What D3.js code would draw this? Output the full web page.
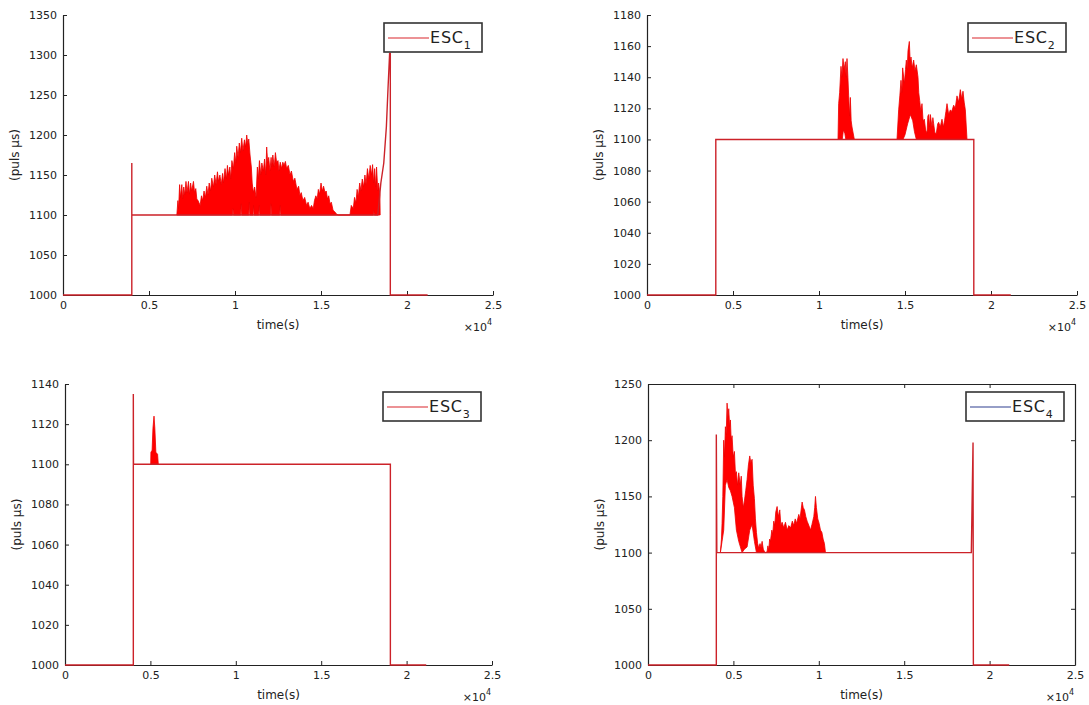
<!DOCTYPE html>
<html>
<head>
<meta charset="utf-8">
<script src="https://cdn.jsdelivr.net/npm/d3@7"></script>
<style>
  html, body { margin: 0; padding: 0; background: #fff; }
  text { font-family: "DejaVu Sans", sans-serif; fill: #222; }
</style>
</head>
<body>
<svg id="chart" width="1089" height="705"></svg>
<script>
// ---------- data ----------
const xTickValues = [0, 5000, 10000, 15000, 20000, 25000];
const xTickLabels = ["0", "0.5", "1", "1.5", "2", "2.5"];
const esc1YTicks = [1000, 1050, 1100, 1150, 1200, 1250, 1300, 1350];
const esc2YTicks = [1000, 1020, 1040, 1060, 1080, 1100, 1120, 1140, 1160, 1180];
const esc3YTicks = [1000, 1020, 1040, 1060, 1080, 1100, 1120, 1140];
const esc4YTicks = [1000, 1050, 1100, 1150, 1200, 1250];
const seriesNames = ["ESC", "ESC", "ESC", "ESC"];
const seriesSubs = ["1", "2", "3", "4"];

// base outline [time (s), pulse (µs)]
const esc1Base = [[0,1000],[4000,1000],[4000,1165],[4000,1100],[18300,1100],[18480,1140],[18650,1165],[18800,1210],[18900,1260],[18990,1302],[19030,1302],[19030,1000],[21200,1000]];
const esc2Base = [[0,1000],[4000,1000],[4000,1100],[19000,1100],[19000,1000],[21150,1000]];
const esc3Base = [[0,1000],[4000,1000],[4000,1135],[4010,1100],[19050,1100],[19050,1000],[21150,1000]];
const esc4Base = [[0,1000],[4000,1000],[4000,1205],[4030,1100],[18930,1100],[19030,1198],[19050,1000],[21150,1000]];

// oscillation envelopes (upper / lower)
const esc1Upper = [[6618,1100],[6680,1118],[6720,1108],[6780,1138],[6830,1122],[6908,1138],[6960,1120],[7020,1135],[7080,1125],[7150,1142],[7210,1128],[7295,1142],[7350,1126],[7420,1140],[7480,1130],[7585,1142],[7650,1128],[7720,1133],[7779,1120],[7850,1118],[7972,1112],[8050,1124],[8120,1118],[8200,1130],[8280,1122],[8359,1136],[8430,1125],[8500,1140],[8580,1130],[8650,1146],[8746,1135],[8820,1150],[8900,1138],[8980,1154],[9036,1142],[9120,1150],[9200,1138],[9280,1152],[9327,1140],[9420,1158],[9500,1145],[9560,1162],[9617,1150],[9700,1160],[9750,1145],[9820,1168],[9907,1158],[9980,1178],[10050,1165],[10101,1186],[10180,1172],[10250,1190],[10320,1178],[10391,1196],[10460,1180],[10550,1194],[10620,1185],[10681,1200],[10750,1188],[10800,1195],[10875,1175],[10950,1160],[11000,1140],[11068,1128],[11140,1135],[11223,1122],[11300,1160],[11358,1145],[11420,1168],[11500,1150],[11560,1165],[11648,1155],[11720,1170],[11790,1150],[11842,1185],[11900,1165],[11960,1172],[12030,1155],[12100,1172],[12132,1160],[12200,1175],[12280,1160],[12350,1178],[12423,1165],[12500,1168],[12550,1155],[12630,1166],[12713,1158],[12780,1166],[12850,1162],[12930,1167],[13003,1158],[13100,1162],[13200,1150],[13280,1155],[13390,1142],[13480,1146],[13600,1132],[13700,1136],[13777,1124],[13850,1128],[13950,1118],[14050,1122],[14164,1112],[14250,1116],[14350,1108],[14450,1112],[14551,1108],[14620,1118],[14700,1124],[14780,1120],[14845,1132],[14920,1126],[15000,1140],[15080,1130],[15150,1136],[15232,1128],[15300,1130],[15380,1120],[15450,1124],[15522,1114],[15600,1116],[15700,1106],[15800,1104],[15909,1101],[16006,1100],[16683,1100],[16760,1112],[16877,1108],[16950,1122],[17030,1115],[17100,1132],[17167,1122],[17250,1140],[17320,1130],[17400,1145],[17480,1135],[17554,1150],[17620,1138],[17700,1158],[17780,1145],[17860,1162],[17941,1150],[18000,1163],[18060,1140],[18120,1158],[18180,1135],[18231,1160],[18300,1130],[18350,1140],[18425,1125],[18440,1100]];
const esc1Lower = [[6618,1100],[9850,1100],[9880,1108],[9910,1100],[10330,1100],[10360,1114],[10390,1100],[10800,1100],[10830,1116],[10860,1100],[11050,1100],[11080,1112],[11110,1100],[11380,1100],[11410,1112],[11440,1100],[12060,1100],[12090,1114],[12120,1100],[12600,1100],[12630,1112],[12660,1100],[18040,1100],[18070,1106],[18100,1100],[18440,1100]];

const esc2Upper = [[11105,1100],[11143,1123],[11200,1130],[11279,1147],[11330,1140],[11395,1152],[11460,1145],[11531,1150],[11580,1140],[11628,1152],[11680,1140],[11725,1128],[11780,1115],[11822,1127],[11870,1112],[11919,1108],[12054,1100],[14535,1100],[14632,1119],[14700,1128],[14767,1138],[14820,1130],[14864,1146],[14961,1136],[15030,1145],[15078,1151],[15130,1145],[15174,1157],[15252,1163],[15300,1150],[15349,1153],[15420,1146],[15504,1151],[15580,1144],[15659,1148],[15756,1140],[15800,1130],[15853,1125],[15920,1118],[15988,1123],[16050,1112],[16124,1113],[16200,1106],[16279,1104],[16330,1115],[16376,1116],[16420,1108],[16473,1116],[16570,1108],[16620,1114],[16667,1110],[16740,1104],[16822,1104],[16900,1110],[16957,1111],[17050,1108],[17151,1113],[17230,1108],[17300,1112],[17380,1118],[17442,1123],[17540,1116],[17636,1119],[17720,1118],[17829,1122],[17920,1120],[18023,1128],[18120,1124],[18217,1132],[18300,1126],[18372,1131],[18440,1124],[18508,1119],[18605,1100]];
const esc2Lower = [[11105,1100],[11350,1100],[11420,1106],[11500,1104],[11560,1100],[12054,1100],[14535,1100],[14884,1100],[15000,1103],[15150,1110],[15310,1116],[15450,1112],[15550,1105],[15659,1100],[18605,1100]];

const esc3Upper = [[5018,1100],[5030,1106],[5100,1107],[5150,1118],[5211,1124],[5260,1118],[5320,1106],[5420,1105],[5462,1100]];
const esc3Lower = [[5018,1100],[5462,1100]];

const esc4Upper = [[4238,1100],[4300,1112],[4336,1126],[4380,1150],[4434,1200],[4480,1185],[4531,1212],[4580,1205],[4629,1233],[4680,1220],[4727,1228],[4780,1212],[4824,1218],[4870,1200],[4922,1204],[4990,1185],[5059,1190],[5120,1170],[5176,1172],[5240,1160],[5313,1171],[5400,1160],[5460,1168],[5508,1150],[5580,1140],[5645,1146],[5720,1155],[5801,1165],[5880,1178],[5957,1186],[6020,1180],[6094,1183],[6160,1160],[6230,1148],[6290,1130],[6348,1118],[6420,1108],[6484,1104],[6560,1108],[6620,1104],[6680,1110],[6750,1103],[6816,1101],[6900,1100],[6973,1101],[7020,1106],[7070,1102],[7120,1112],[7168,1110],[7250,1120],[7300,1116],[7363,1128],[7420,1124],[7480,1136],[7559,1141],[7630,1132],[7715,1138],[7780,1124],[7852,1127],[7950,1122],[8047,1127],[8150,1120],[8242,1124],[8350,1122],[8450,1128],[8535,1124],[8620,1130],[8700,1126],[8828,1134],[8900,1130],[9023,1145],[9090,1140],[9160,1138],[9240,1132],[9316,1128],[9420,1124],[9512,1120],[9600,1125],[9707,1132],[9760,1140],[9805,1150],[9860,1140],[9941,1130],[10020,1126],[10098,1120],[10180,1118],[10254,1112],[10330,1108],[10391,1100]];
const esc4Lower = [[4238,1100],[4434,1120],[4531,1160],[4629,1165],[4727,1158],[4824,1155],[4922,1150],[5059,1140],[5176,1120],[5313,1110],[5508,1100],[5645,1103],[5801,1105],[5957,1120],[6094,1125],[6230,1110],[6348,1100],[10391,1100]];

// ---------- layout ----------
const panels = [
  {rect:[63,493,15,295],  yDomain:[1000,1350], yTicks:esc1YTicks, base:esc1Base, up:esc1Upper, lo:esc1Lower, legendColor:"#d9262c", idx:0, box:false},
  {rect:[647,1077,15,295], yDomain:[1000,1180], yTicks:esc2YTicks, base:esc2Base, up:esc2Upper, lo:esc2Lower, legendColor:"#d9262c", idx:1, box:false},
  {rect:[65,492,384,665],  yDomain:[1000,1140], yTicks:esc3YTicks, base:esc3Base, up:esc3Upper, lo:esc3Lower, legendColor:"#d9262c", idx:2, box:false},
  {rect:[648,1075,384,665], yDomain:[1000,1250], yTicks:esc4YTicks, base:esc4Base, up:esc4Upper, lo:esc4Lower, legendColor:"#2e3f8f", idx:3, box:true}
];

const svg = d3.select("#chart");
const lineColor = "#cc2229";

panels.forEach(p => {
  const [x0, x1, y0, y1] = p.rect;
  const x = d3.scaleLinear().domain([0, 25000]).range([x0, x1]);
  const y = d3.scaleLinear().domain(p.yDomain).range([y1, y0]);
  const g = svg.append("g");

  const styleAxis = sel => {
    sel.selectAll("path.domain").attr("stroke", "#222").attr("stroke-width", 1.2);
    sel.selectAll(".tick line").attr("stroke", "#222").attr("stroke-width", 1);
    sel.selectAll(".tick text").style("font-family", "DejaVu Sans, sans-serif").style("font-size", "11px").attr("fill", "#222");
  };

  // axes
  const xAxis = d3.axisBottom(x).tickValues(xTickValues)
    .tickFormat((d, i) => xTickLabels[i]).tickSizeInner(-4).tickSizeOuter(0).tickPadding(6.5);
  g.append("g").attr("transform", `translate(0,${y1})`).call(xAxis).call(styleAxis);

  const yAxis = d3.axisLeft(y).tickValues(p.yTicks).tickFormat(d3.format("d"))
    .tickSizeInner(-4).tickSizeOuter(0).tickPadding(6);
  g.append("g").attr("transform", `translate(${x0},0)`).call(yAxis).call(styleAxis);

  if (p.box) {
    g.append("g").attr("transform", `translate(0,${y0})`)
      .call(d3.axisTop(x).tickValues(xTickValues).tickFormat("").tickSizeInner(-4).tickSizeOuter(0)).call(styleAxis);
    g.append("g").attr("transform", `translate(${x1},0)`)
      .call(d3.axisRight(y).tickValues(p.yTicks).tickFormat("").tickSizeInner(-4).tickSizeOuter(0)).call(styleAxis);
  }

  // labels
  g.append("text").attr("x", (x0 + x1) / 2).attr("y", y1 + 34)
    .attr("text-anchor", "middle").style("font-size", "12px").text("time(s)");
  const mult = g.append("text").attr("x", x1 - 1).attr("y", y1 + 36)
    .attr("text-anchor", "end").style("font-size", "11px");
  mult.append("tspan").text("×10");
  mult.append("tspan").attr("dy", -6).style("font-size", "8px").text("4");
  g.append("text").attr("transform", `translate(${x0 - 44},${(y0 + y1) / 2}) rotate(-90)`)
    .attr("text-anchor", "middle").style("font-size", "12px").text("(puls μs)");

  // data
  const line = d3.line().x(d => x(d[0])).y(d => y(d[1]));
  const poly = p.up.concat(p.lo.slice().reverse());
  g.append("path").attr("d", line(poly) + "Z")
    .attr("fill", "#ff0000").attr("stroke", "#ee0000").attr("stroke-width", 0.8).attr("stroke-linejoin", "round");
  g.append("path").attr("d", line(p.base))
    .attr("fill", "none").attr("stroke", lineColor).attr("stroke-width", 1.4);

  // legend
  const bw = 98, bh = 29;
  const bx = x1 - 11 - bw, by = y0 + 8;
  const lg = g.append("g").attr("transform", `translate(${bx},${by})`);
  lg.append("rect").attr("width", bw).attr("height", bh)
    .attr("fill", "#fff").attr("stroke", "#333").attr("stroke-width", 1.6);
  lg.append("line").attr("x1", 4).attr("x2", 45).attr("y1", 15).attr("y2", 15)
    .attr("stroke", p.legendColor).attr("stroke-width", 1.2);
  const lt = lg.append("text").attr("x", 46).attr("y", 20).style("font-size", "16px").style("letter-spacing", "0.8px");
  lt.append("tspan").text(seriesNames[p.idx]);
  lt.append("tspan").attr("dx", 0).attr("dy", 6).style("font-size", "11px").style("letter-spacing", "0px").text(seriesSubs[p.idx]);
});
</script>
</body>
</html>
